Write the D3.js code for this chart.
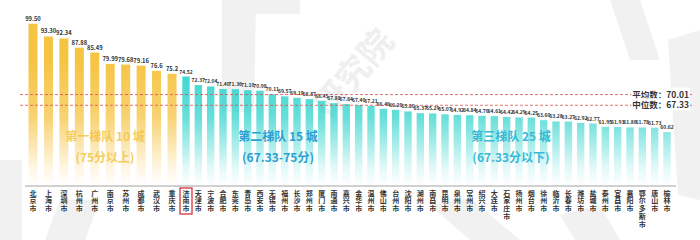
<!DOCTYPE html>
<html><head><meta charset="utf-8">
<script src="https://cdn.jsdelivr.net/npm/d3@7"></script>
<style>html,body{margin:0;padding:0;background:#fff;}svg{display:block;font-family:"Noto Sans CJK SC","Noto Sans",sans-serif;}</style>
</head><body><svg id="chart" width="700" height="240"></svg>
<script>
const cities = ["北京市","上海市","深圳市","杭州市","广州市","南京市","苏州市","成都市","武汉市","重庆市",
"济南市","天津市","宁波市","合肥市","东莞市","青岛市","西安市","无锡市","福州市","长沙市","郑州市","厦门市","南通市","嘉兴市","金华市",
"温州市","佛山市","台州市","沈阳市","湖州市","南昌市","昆明市","泉州市","常州市","绍兴市","大连市","石家庄市","扬州市","烟台市","徐州市","临沂市","长春市","潍坊市","盐城市","泰州市","宜昌市","襄阳市","鄂尔多斯市","唐山市","榆林市"];
const scores = [99.50,93.30,92.34,87.88,85.49,79.99,79.68,79.16,76.6,75.2,
74.52,72.37,72.04,71.40,71.36,71.10,70.98,70.11,69.57,69.19,68.87,68.45,67.88,67.64,67.40,
67.21,66.46,66.20,65.80,65.37,65.29,65.07,64.92,64.84,64.70,64.61,64.42,64.29,64.25,63.60,63.28,63.27,62.92,62.77,61.95,61.93,61.80,61.78,61.73,60.62];
const labels = ["99.50","93.30","92.34","87.88","85.49","79.99","79.68","79.16","76.6","75.2",
"74.52","72.37","72.04","71.40","71.36","71.10","70.98","70.11","69.57","69.19","68.87","68.45","67.88","67.64","67.40",
"67.21","66.46","66.20","65.80","65.37","65.29","65.07","64.92","64.84","64.70","64.61","64.42","64.29","64.25","63.60","63.28","63.27","62.92","62.77","61.95","61.93","61.80","61.78","61.73","60.62"];
const tierSizes = [10,15,25];
const tierTitles = ["第一梯队 10 城","第二梯队 15 城","第三梯队 25 城"];
const tierRanges = ["(75分以上)","(67.33-75分)","(67.33分以下)"];
const refNames = ["平均数：","中位数："];
const refValues = [70.01,67.33];
const highlightCity = "济南市";

const svg = d3.select("#chart");
const tierOf = i => i < tierSizes[0] ? 0 : (i < tierSizes[0]+tierSizes[1] ? 1 : 2);

// decorative watermark shapes (light gray)
const deco = svg.append("g").attr("fill","#f1f1f1");
[
 [[0,160],[22,160],[22,240],[0,240]],
 [[60,200],[100,200],[85,240],[45,240]],
 [[222,0],[256,0],[254,112],[222,112]],
 [[256,0],[300,0],[300,14],[256,14]],
 [[610,0],[640,0],[660,60],[630,60]],
 [[668,40],[700,30],[700,200],[678,195]],
 [[430,205],[470,198],[520,240],[470,240]],
 [[560,215],[600,205],[620,240],[575,240]]
].forEach(p => deco.append("polygon").attr("points", p.map(q=>q.join(",")).join(" ")));
svg.append("text").attr("transform","translate(330,120) rotate(-50)").attr("font-size",34).attr("fill","#efefef").attr("font-weight","bold").text("研究院");

const x = d3.scaleLinear().domain([0,9,10,49]).range([33,172,186,667]);
const y = d3.scaleLinear().domain([47.15,75.2,99.5]).range([186,73.8,23.7]);
const axisY = y(47.15);

const defs = svg.append("defs");
function grad(id, color){
  const g = defs.append("linearGradient").attr("id",id).attr("gradientUnits","userSpaceOnUse")
    .attr("x1",0).attr("x2",0).attr("y1",60).attr("y2",axisY);
  g.append("stop").attr("offset",0).attr("stop-color",color).attr("stop-opacity",1);
  g.append("stop").attr("offset",0.45).attr("stop-color",color).attr("stop-opacity",0.75);
  g.append("stop").attr("offset",0.85).attr("stop-color",color).attr("stop-opacity",0.15);
  g.append("stop").attr("offset",1).attr("stop-color",color).attr("stop-opacity",0);
}
grad("gGold","#f6c443");
grad("gTeal","#33d4cd");

const data = cities.map((c,i)=>({c, v:scores[i], l:labels[i], i, t:tierOf(i)}));
const bw = d => d.t===0 ? 9 : 7.4;

svg.append("g").selectAll("rect").data(data).join("rect")
  .attr("x", d => x(d.i) - bw(d)/2)
  .attr("y", d => y(d.v))
  .attr("width", bw)
  .attr("height", d => axisY - y(d.v))
  .attr("fill", d => d.t===0 ? "url(#gGold)" : "url(#gTeal)");

// value labels
svg.append("g").selectAll("text").data(data).join("text")
  .attr("x", d => x(d.i))
  .attr("y", d => y(d.v) - 3)
  .attr("text-anchor","middle")
  .attr("font-size", d => d.t===0 ? 5.8 : 5)
  .attr("font-weight","bold")
  .attr("fill","#333")
  .text(d => d.l);

// reference lines
refValues.forEach((v,k)=>{
  svg.append("line").attr("x1",20).attr("x2",692).attr("y1",y(v)).attr("y2",y(v))
    .attr("stroke","#d9534f").attr("stroke-width",0.8).attr("stroke-dasharray","3,2");
  const t = svg.append("text").attr("x",689).attr("y",y(v)+3).attr("text-anchor","end")
    .attr("font-size",8.5).attr("font-weight","bold").attr("fill","#333")
    .text(refNames[k] + v.toFixed(2));
  const bb = t.node().getBBox();
  svg.insert("rect", () => t.node()).attr("x",bb.x-1).attr("y",bb.y).attr("width",bb.width+2).attr("height",bb.height).attr("fill","#fff");
});

// tier titles
const tierCx = [105,278,511];
const tierColors = ["#f4c443","#2c9ed3","#38b9d6"];
tierTitles.forEach((t,k)=>{
  svg.append("text").attr("x",tierCx[k]).attr("y",141).attr("text-anchor","middle")
    .attr("font-size",12).attr("font-weight","bold").attr("fill",tierColors[k])
    .attr("fill-opacity", k===0?0.85:1).text(t);
  svg.append("text").attr("x",tierCx[k]).attr("y",162).attr("text-anchor","middle")
    .attr("font-size",12).attr("font-weight","bold").attr("fill",tierColors[k])
    .attr("fill-opacity", k===0?0.85:1).text(tierRanges[k]);
});

// axis line
svg.append("line").attr("x1",25).attr("x2",676).attr("y1",axisY).attr("y2",axisY)
  .attr("stroke","#8a8a8a").attr("stroke-width",0.8);

// city labels (vertical writing)
svg.append("g").selectAll("text").data(data).join("text")
  .attr("x", d => x(d.i))
  .attr("y", 189.5)
  .attr("writing-mode","vertical-rl")
  .style("text-orientation","upright")
  .attr("letter-spacing",0.8)
  .attr("font-size",7).attr("font-weight","bold").attr("fill","#333")
  .text(d => d.c);

// highlight box
const hi = data.find(d=>d.c===highlightCity);
svg.append("rect").attr("x", x(hi.i)-6).attr("y",188).attr("width",12).attr("height",26)
  .attr("fill","none").attr("stroke","#d0262d").attr("stroke-width",1.2);
</script></body></html>
